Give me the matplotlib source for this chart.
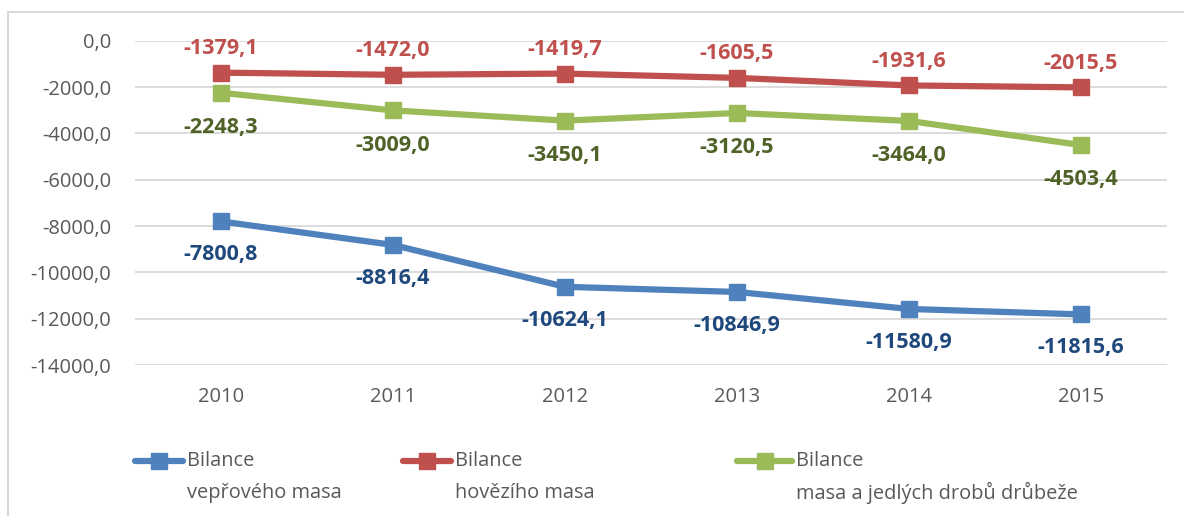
import matplotlib.pyplot as plt
from matplotlib.lines import Line2D
from matplotlib.patches import Rectangle
from matplotlib.ticker import FuncFormatter

plt.rcParams['font.family'] = ['Open Sans', 'DejaVu Sans']

years = ['2010', '2011', '2012', '2013', '2014', '2015']
pork = [-7800.8, -8816.4, -10624.1, -10846.9, -11580.9, -11815.6]
beef = [-1379.1, -1472.0, -1419.7, -1605.5, -1931.6, -2015.5]
poultry = [-2248.3, -3009.0, -3450.1, -3120.5, -3464.0, -4503.4]

names = [('Bilance', 'vepřového masa'), ('Bilance', 'hovězího masa'),
         ('Bilance', 'masa a jedlých drobů drůbeže')]

W, H = 1184, 516
fig = plt.figure(figsize=(W / 100, H / 100), dpi=100)
ax = fig.add_axes([135 / W, 1 - 365 / H, (1167 - 135) / W, (365 - 40.7) / H])

# outer chart frame
fig.add_artist(Rectangle((8 / W, -0.1), 1.2, 1 - 12 / H + 0.1,
                         transform=fig.transFigure, fill=False,
                         edgecolor='#D9D9D9', linewidth=1.5))

series = [
    (pork, '#4F81BD', '#1F497D', -24),
    (beef, '#C0504D', '#C0504D', 17.5),
    (poultry, '#9BBB59', '#4F6228', -25),
]
x = list(range(len(years)))

for values, color, label_color, dy in series:
    ax.plot(x, values, color=color, linewidth=4.5, marker='s',
            markersize=11, solid_capstyle='round', zorder=3)
    for xi, v in zip(x, values):
        ax.annotate(f'{v:.1f}'.replace('.', ','), (xi, v),
                    xytext=(0, dy), textcoords='offset points',
                    ha='center', va='center', fontsize=15.5,
                    fontweight='bold', color=label_color)

ax.set_xlim(-0.5, len(years) - 0.5)
ax.set_ylim(-14000, 0)
ax.set_yticks(range(-14000, 1, 2000))
ax.yaxis.set_major_formatter(FuncFormatter(lambda v, p: f'{v:.1f}'.replace('.', ',')))
ax.set_xticks(x)
ax.set_xticklabels(years)
ax.grid(axis='y', color='#D9D9D9', linewidth=1.3)
ax.set_axisbelow(True)
for s in ax.spines.values():
    s.set_visible(False)
ax.tick_params(length=0, labelsize=14.5, colors='#595959')
ax.tick_params(axis='y', pad=17)
ax.tick_params(axis='x', pad=16)

# legend drawn by hand so the marker sits on the first text line
legend_pos = [(135, 183), (403, 451), (737, 792)]
for (x0, x1), (values, color, _, _), (line1, line2) in zip(legend_pos, series, names):
    yy = 1 - 461 / H
    fig.add_artist(Line2D([x0 / W, x1 / W], [yy, yy], transform=fig.transFigure,
                          color=color, linewidth=4.5, solid_capstyle='round'))
    fig.add_artist(Line2D([(x0 + x1) / 2 / W], [yy], transform=fig.transFigure,
                          color=color, marker='s', markersize=11))
    fig.text((x1 + 4) / W, yy, line1, ha='left', va='center',
             fontsize=14.4, color='#595959')
    fig.text((x1 + 4) / W, 1 - 493 / H, line2, ha='left', va='center',
             fontsize=14.4, color='#595959')

fig.savefig('out.png', dpi=100)
